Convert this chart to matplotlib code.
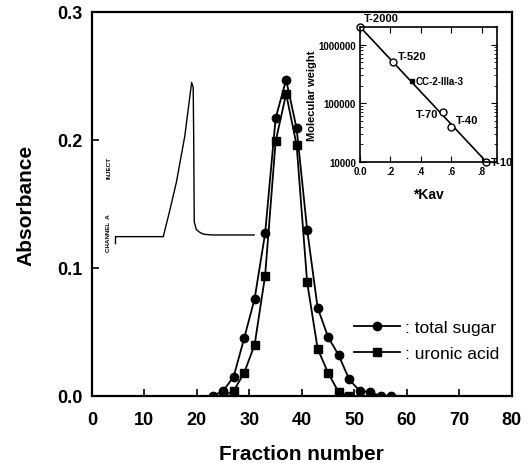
import matplotlib
matplotlib.use('Agg')
import matplotlib.pyplot as plt
import numpy as np

plt.rcParams['font.family'] = ['Liberation Sans', 'DejaVu Sans']

# elution profile (fraction number vs absorbance)
sugar_fraction = [23, 25, 27, 29, 31, 33, 35, 37, 39, 41, 43, 45, 47, 49, 51, 53, 55, 57]
sugar_abs = [0.0, 0.004, 0.015, 0.045, 0.076, 0.127, 0.217, 0.247, 0.209, 0.130,
             0.069, 0.046, 0.032, 0.013, 0.004, 0.003, 0.0, 0.0]
uronic_fraction = [25, 27, 29, 31, 33, 35, 37, 39, 41, 43, 45, 47, 49]
uronic_abs = [0.0, 0.004, 0.018, 0.040, 0.094, 0.199, 0.236, 0.196, 0.089,
              0.037, 0.018, 0.003, 0.0]

# HPLC trace drawn inside the main plot
trace_x = [4.5, 4.5, 13.6, 14.9, 16.1, 17.7, 18.6, 19.0, 19.3, 19.4, 19.5, 19.9,
           20.5, 21.2, 22.2, 23.1, 26.0, 30.9]
trace_y = [0.119, 0.1245, 0.1245, 0.146, 0.167, 0.203, 0.232, 0.245, 0.241, 0.200,
           0.136, 0.130, 0.128, 0.1265, 0.126, 0.1258, 0.1258, 0.1258]

# calibration inset
std_names = ['T-2000', 'T-520', 'T-70', 'T-40', 'T-10']
std_kav = [0.0, 0.215, 0.544, 0.60, 0.83]
std_mw = [2.0e6, 5.0e5, 7.0e4, 4.0e4, 1.0e4]
sample_name = 'CC-2-IIIa-3'
sample_kav = 0.34
sample_mw = 2.4e5
inset_xticks = [0.0, 0.2, 0.4, 0.6, 0.8]
inset_xlabels = ['0.0', '.2', '.4', '.6', '.8']

fig = plt.figure(figsize=(5.31, 4.64), dpi=100)
ax = fig.add_axes([0.173, 0.1444, 0.791, 0.8276])

ax.plot(sugar_fraction, sugar_abs, color='black', lw=1.3, marker='o', ms=6,
        label=': total sugar')
ax.plot(uronic_fraction, uronic_abs, color='black', lw=1.3, marker='s', ms=5.5,
        label=': uronic acid')
ax.plot(trace_x, trace_y, color='black', lw=1.0)
ax.text(3.2, 0.128, 'CHANNEL  A', rotation=90, fontsize=4.5, fontweight='bold',
        ha='center', va='center')
ax.text(3.2, 0.179, 'INJECT', rotation=90, fontsize=4.5, fontweight='bold',
        ha='center', va='center')

ax.set_xlim(0, 80)
ax.set_ylim(0, 0.3)
ax.set_xticks(range(0, 81, 10))
ax.set_yticks([0.0, 0.1, 0.2, 0.3])
ax.set_yticklabels(['0.0', '0.1', '0.2', '0.3'])
ax.tick_params(direction='in', length=5, width=1.2, labelsize=13)
ax.tick_params(axis='x', pad=11)
ax.tick_params(axis='y', pad=6.5)
for lab in ax.get_xticklabels() + ax.get_yticklabels():
    lab.set_fontweight('bold')
for sp in ax.spines.values():
    sp.set_linewidth(1.6)
ax.set_xlabel('Fraction number', fontsize=15, fontweight='bold', labelpad=11)
ax.set_ylabel('Absorbance', fontsize=15, fontweight='bold', labelpad=16)
ax.legend(loc='lower left', bbox_to_anchor=(0.588, 0.051), frameon=False,
          fontsize=12.5, handlelength=2.6, handletextpad=0.3, labelspacing=0.6)

# inset: molecular weight calibration
ins = fig.add_axes([0.678, 0.649, 0.258, 0.291])
ins.plot([std_kav[0], std_kav[-1]], [std_mw[0], std_mw[-1]], color='black', lw=1.2)
ins.plot(std_kav, std_mw, 'o', mfc='white', mec='black', ms=5, mew=1.0, clip_on=False)
ins.plot([sample_kav], [sample_mw], 's', color='black', ms=3.5, clip_on=False)
ins.set_yscale('log')
ins.set_xlim(0, 0.9)
ins.set_ylim(1e4, 2e6)
ins.set_xticks(inset_xticks)
ins.set_xticklabels(inset_xlabels)
ins.set_yticks([1e4, 1e5, 1e6])
ins.set_yticklabels(['10000', '100000', '1000000'])
ins.tick_params(which='both', direction='in', top=True, right=True, labelsize=7, pad=3)
ins.tick_params(which='major', length=4)
ins.tick_params(which='minor', length=2)
for lab in ins.get_xticklabels() + ins.get_yticklabels():
    lab.set_fontweight('bold')
for sp in ins.spines.values():
    sp.set_linewidth(1.2)
ins.set_xlabel('*Kav', fontsize=10, fontweight='bold', labelpad=8)
ins.set_ylabel('Molecular weight', fontsize=8, fontweight='bold', labelpad=1)

offsets = {'T-2000': (3, 3, 'left', 'bottom'), 'T-520': (4, 1, 'left', 'bottom'),
           'T-70': (-3, -1, 'right', 'center'), 'T-40': (3, 1, 'left', 'bottom'),
           'T-10': (3, 0, 'left', 'center')}
for name, k, m in zip(std_names, std_kav, std_mw):
    dx, dy, ha, va = offsets[name]
    ins.annotate(name, (k, m), xytext=(dx, dy), textcoords='offset points',
                 fontsize=8, fontweight='bold', ha=ha, va=va, annotation_clip=False)
ins.annotate(sample_name, (sample_kav, sample_mw), xytext=(3, 0), textcoords='offset points',
             fontsize=7, fontweight='bold', ha='left', va='center')

fig.savefig('out.png', dpi=100)
